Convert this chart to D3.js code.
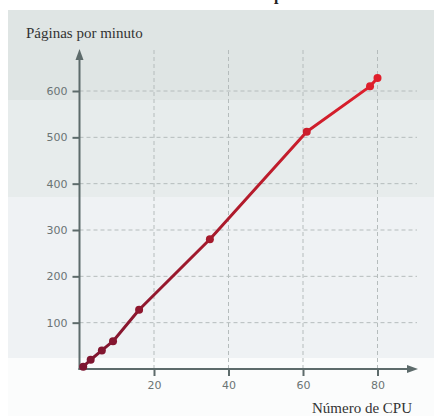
<!DOCTYPE html>
<html>
<head>
<meta charset="utf-8">
<script src="https://cdn.jsdelivr.net/npm/d3@7/dist/d3.min.js"></script>
<style>
  body { margin: 0; background: #fff; }
  svg { display: block; }
  .tick text { font-family: "DejaVu Sans", sans-serif; }
</style>
</head>
<body>
<div id="container"></div>
<script>
// data
const cpus = [1, 3, 6, 9, 16, 35, 61, 78, 80];
const pages = [5, 20, 40, 60, 128, 280, 512, 610, 628];
const xTicks = [20, 40, 60, 80];
const yTicks = [100, 200, 300, 400, 500, 600];

const width = 434;
const height = 416;

const svg = d3.select('#container')
              .append('svg')
              .attr('width', width)
              .attr('height', height);

const x = d3.scaleLinear().domain([0, 80]).range([79.5, 377.5]);
const y = d3.scaleLinear().domain([0, 600]).range([369, 91]);

//Background bands
const defs = svg.append('defs');
const grad = defs.append('linearGradient')
                 .attr('id', 'lineGrad')
                 .attr('gradientUnits', 'userSpaceOnUse')
                 .attr('x1', 0).attr('y1', y(0))
                 .attr('x2', 0).attr('y2', y(628));
grad.append('stop').attr('offset', '0%').attr('stop-color', '#7c1530');
grad.append('stop').attr('offset', '45%').attr('stop-color', '#a51a2c');
grad.append('stop').attr('offset', '100%').attr('stop-color', '#e01f2b');

const bands = [
  {y0: 10, y1: 100, c: '#dfe5e4'},
  {y0: 100, y1: 197, c: '#e7ecec'},
  {y0: 197, y1: 358, c: '#eff2f4'},
  {y0: 358, y1: 416, c: '#fbfcfc'}
];
svg.selectAll('rect.band')
   .data(bands)
   .enter()
   .append('rect')
   .attr('class', 'band')
   .attr('x', 8)
   .attr('y', d => d.y0)
   .attr('width', width - 8)
   .attr('height', d => d.y1 - d.y0)
   .attr('fill', d => d.c);

//cut off title fragment at the top
svg.append('text')
   .attr('x', 274)
   .attr('y', 0)
   .attr('font-family', 'Liberation Serif, serif')
   .attr('font-weight', 'bold')
   .attr('font-size', 16)
   .attr('fill', '#222')
   .text('p');

//Grid lines
svg.append('g')
   .selectAll('line')
   .data(yTicks)
   .enter()
   .append('line')
   .attr('x1', x(0)).attr('x2', 417)
   .attr('y1', d => y(d)).attr('y2', d => y(d))
   .attr('stroke', '#b5bcbc')
   .attr('stroke-width', 1)
   .attr('stroke-dasharray', '4,3');

svg.append('g')
   .selectAll('line')
   .data(xTicks)
   .enter()
   .append('line')
   .attr('x1', d => x(d)).attr('x2', d => x(d))
   .attr('y1', 50).attr('y2', y(0))
   .attr('stroke', '#b5bcbc')
   .attr('stroke-width', 1)
   .attr('stroke-dasharray', '4,3');

//Axes
const axisColor = '#5d6b6b';
const xAxis = d3.axisBottom(x).tickValues(xTicks).tickSize(7).tickPadding(5);
const gx = svg.append('g')
   .attr('transform', `translate(0,${y(0)})`)
   .call(xAxis);
gx.select('.domain').remove();
gx.selectAll('.tick line').attr('stroke', axisColor).attr('stroke-width', 2);
gx.selectAll('.tick text').attr('fill', '#6b7474').attr('font-size', 11);

const yAxis = d3.axisLeft(y).tickValues(yTicks).tickSize(7).tickPadding(5);
const gy = svg.append('g')
   .attr('transform', `translate(${x(0)},0)`)
   .call(yAxis);
gy.select('.domain').remove();
gy.selectAll('.tick line').attr('stroke', axisColor).attr('stroke-width', 2);
gy.selectAll('.tick text').attr('fill', '#6b7474').attr('font-size', 11);

svg.append('line')
   .attr('x1', x(0)).attr('x2', x(0))
   .attr('y1', y(0) + 1).attr('y2', 58)
   .attr('stroke', axisColor).attr('stroke-width', 2);
svg.append('path')
   .attr('d', `M${x(0)},49 L${x(0) - 4},60 L${x(0) + 4},60 Z`)
   .attr('fill', axisColor);

svg.append('line')
   .attr('x1', x(0) - 1).attr('x2', 409)
   .attr('y1', y(0)).attr('y2', y(0))
   .attr('stroke', axisColor).attr('stroke-width', 2);
svg.append('path')
   .attr('d', `M418,${y(0)} L407,${y(0) - 4} L407,${y(0) + 4} Z`)
   .attr('fill', axisColor);

//Axis titles
svg.append('text')
   .attr('x', 26)
   .attr('y', 38)
   .attr('font-family', 'Liberation Serif, serif')
   .attr('font-size', 15)
   .attr('fill', '#333')
   .text('Páginas por minuto');

svg.append('text')
   .attr('x', 412)
   .attr('y', 413)
   .attr('text-anchor', 'end')
   .attr('font-family', 'Liberation Serif, serif')
   .attr('font-size', 15)
   .attr('fill', '#333')
   .text('Número de CPU');

//Line and points
const data = cpus.map((c, i) => [c, pages[i]]);
const line = d3.line().x(d => x(d[0])).y(d => y(d[1]));

svg.append('path')
   .datum(data)
   .attr('d', line)
   .attr('fill', 'none')
   .attr('stroke', 'url(#lineGrad)')
   .attr('stroke-width', 3)
   .attr('stroke-linejoin', 'round');

svg.selectAll('circle.pt')
   .data(data)
   .enter()
   .append('circle')
   .attr('class', 'pt')
   .attr('cx', d => x(d[0]))
   .attr('cy', d => y(d[1]))
   .attr('r', 4)
   .attr('fill', 'url(#lineGrad)');
</script>
</body>
</html>
